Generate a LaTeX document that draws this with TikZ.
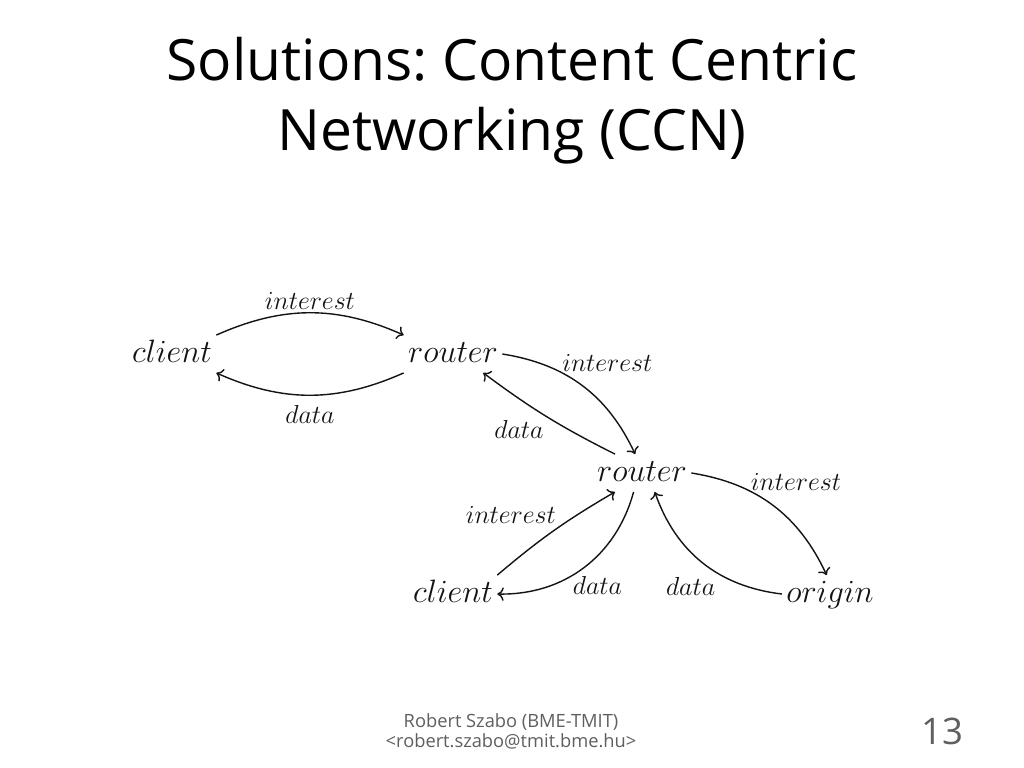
\documentclass[tikz,border=0pt]{standalone}
\usepackage{fix-cm}
\usepackage{fontspec}
\setmainfont{Open Sans}
\usepackage{xcolor}
\usetikzlibrary{arrows.meta}
\frenchspacing
\definecolor{FootGray}{RGB}{95, 95, 95}
\definecolor{InkBlack}{RGB}{20, 20, 20}
\tikzset{
  ttl/.style={align=center, font=\fontsize{40.5}{50}\selectfont, text=black},
  foot/.style={align=center, font=\fontsize{13}{14.2}\selectfont, text=FootGray},
  ent/.style={inner sep=3pt, text height=16pt, text depth=4.5pt,
    font=\fontsize{23}{28}\selectfont, text=InkBlack},
  lbl/.style={inner sep=2pt, font=\fontsize{18.5}{22}\selectfont, text=InkBlack},
  arr/.style={-{To[scale=1.2]}, line width=1pt, color=InkBlack},
}
\begin{document}
\begin{tikzpicture}[x=0.025cm, y=-0.025cm]
  \useasboundingbox[fill=white] (0,0) rectangle (1024,768);
  \node[ttl] (title) at (512,101) {Solutions: Content Centric\\Networking (CCN)};

  \node[ent] (c1) at (172,354) {$client$};
  \node[ent] (r1) at (453,354) {$router$};
  \node[ent] (r2) at (642,473) {$router$};
  \node[ent] (c2) at (453,594) {$client$};
  \node[ent] (o) at (830,594) {$origin$};

  \draw[arr] (c1.north east) to[bend left=24] node[lbl,above]{$interest$} (r1.north west);
  \draw[arr] (r1.south west) to[bend left=24] node[lbl,below=5pt]{$data$} (c1.south east);
  \draw[arr] (r1.east) to[bend left=28] node[lbl,pos=0.35,above right,inner sep=0pt]{$interest$} (r2.110);
  \draw[arr] (r2.145) to[bend left=5] node[lbl,below left]{$data$} (r1.-32);
  \draw[arr] (c2.north east) to[bend left=5] node[lbl,pos=0.55,above left]{$interest$} (r2.-145);
  \draw[arr] (r2.-114) to[bend left=38] node[lbl,pos=0.58,below right,inner sep=0pt]{$data$} (c2.east);
  \draw[arr] (r2.east) to[bend left=28] node[lbl,pos=0.34,above right,inner sep=0pt]{$interest$} (o.100);
  \draw[arr] (o.west) to[bend left=32] node[lbl,pos=0.38,below left]{$data$} (r2.-56);

  \node[foot] (auth) at (511,731) {Robert Szabo (BME-TMIT)\\<robert.szabo@tmit.bme.hu>};
  \node[font=\fontsize{26}{30}\selectfont, text=FootGray] (pg) at (942,731) {13};
\end{tikzpicture}
\end{document}
